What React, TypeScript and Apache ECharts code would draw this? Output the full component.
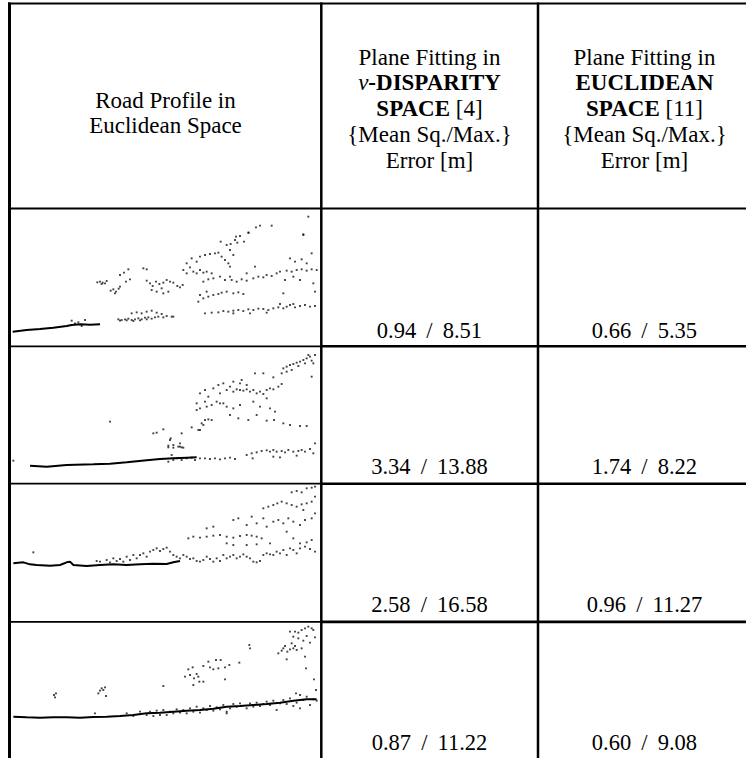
import React, { useEffect, useRef } from "react";
import * as echarts from "echarts";

type P = [number, number];

// ---------- table texts ----------
const HEADER_PROFILE = ["Road Profile in", "Euclidean Space"];
const HEADER_VDISP = ["Plane Fitting in", "{i|v}{b|-DISPARITY}", "{b|SPACE} [4]", "{Mean Sq./Max.}", "Error [m]"];
const HEADER_EUCL = ["Plane Fitting in", "{b|EUCLIDEAN}", "{b|SPACE} [11]", "{Mean Sq./Max.}", "Error [m]"];

// ---------- error values [m] ----------
const VDISP_MEAN_SQ = [0.94, 3.34, 2.58, 0.87];
const VDISP_MAX = [8.51, 13.88, 16.58, 11.22];
const EUCL_MEAN_SQ = [0.66, 1.74, 0.96, 0.6];
const EUCL_MAX = [5.35, 8.22, 11.27, 9.08];

// ---------- road profiles (distance, depth units) ----------
const ROAD_1: P[] = [[38, 305], [80, 300], [120, 297], [160, 293], [200, 288], [215, 285], [240, 283], [270, 284], [300, 283]];
const CLOUD_1: P[] = [
  [215, 272], [235, 277], [255, 270], [245, 288], [225, 280],
  [292, 157], [300, 155], [308, 158], [315, 160], [320, 153], [305, 162],
  [332, 182], [340, 178], [348, 185], [356, 176], [345, 190], [360, 170],
  [360, 135], [372, 128], [385, 118], [378, 155], [390, 148], [430, 115], [440, 118],
  [440, 152], [450, 160], [458, 168], [468, 155], [478, 162], [490, 158], [500, 150], [510, 155], [520, 158],
  [485, 175], [470, 185], [455, 180], [490, 190], [505, 185], [532, 168], [540, 172], [548, 165],
  [550, 120], [560, 130], [570, 112], [580, 125], [590, 130], [600, 120], [610, 128], [620, 125], [635, 130],
  [560, 100], [575, 85], [590, 95], [600, 80], [615, 75], [630, 72], [645, 70], [655, 68], [665, 80], [675, 90],
  [685, 100], [690, 110], [700, 75], [690, 60], [680, 45], [705, 30], [720, 18], [745, 8],
  [610, 155], [625, 148], [640, 145], [660, 140], [675, 150], [690, 140],
  [695, 150], [710, 155], [725, 148], [740, 152], [760, 145], [775, 140], [790, 142], [800, 135], [815, 138],
  [830, 130], [840, 125], [860, 122], [875, 125], [890, 120], [905, 118], [920, 122], [935, 118], [950, 120],
  [765, 110], [740, 130],
  [595, 215], [610, 205], [625, 200], [640, 195], [655, 192], [665, 188], [680, 185], [700, 190], [715, 187],
  [730, 192], [600, 195], [620, 185],
  [850, 190], [870, 85], [885, 95], [905, 88], [920, 100], [935, 70], [910, 15], [940, 160], [945, 185],
  [900, 150], [880, 140], [855, 150],
  [615, 250], [635, 248], [655, 247], [670, 243], [685, 245], [700, 242], [715, 240], [730, 243], [745, 238],
  [760, 240], [775, 236], [790, 237], [805, 240], [820, 235], [835, 232], [850, 235], [860, 230], [870, 225],
  [885, 232], [900, 228], [915, 225], [930, 230], [945, 228], [700, 250], [750, 250], [800, 248], [840, 222], [880, 222],
  [355, 268], [365, 270], [375, 268], [385, 266], [395, 270], [405, 268], [415, 265], [425, 268], [435, 263],
  [445, 262], [455, 266], [465, 262], [475, 260], [490, 262], [500, 258], [515, 260], [395, 250], [410, 247],
  [425, 250], [440, 245], [455, 242], [470, 248], [485, 252], [520, 260],
  [360, 272], [380, 271], [400, 273], [420, 271], [440, 268],
  [662, 35], [692, 42], [708, 20], [712, 38], [732, 35], [746, 8], [768, -8], [780, -13], [815, -13], [910, 13], [925, -40],
];

const ROAD_2: P[] = [[90, 377], [140, 380], [200, 375], [280, 373], [330, 371], [380, 367], [440, 361], [480, 357], [520, 355], [560, 353], [590, 352]];
const CLOUD_2: P[] = [
  [850, 85], [860, 80], [870, 75], [880, 72], [890, 68], [900, 65], [910, 60], [920, 55], [930, 50], [945, 45],
  [935, 62], [915, 70], [895, 78], [875, 90], [860, 95], [845, 100], [925, 45], [940, 70], [935, 110],
  [765, 100], [790, 100], [820, 112],
  [600, 160], [615, 150], [625, 170], [640, 145], [655, 135], [670, 130], [680, 150], [690, 140], [700, 155],
  [710, 148], [720, 150], [730, 152], [740, 148], [750, 155], [760, 150], [770, 160], [780, 155], [790, 162],
  [800, 150], [810, 145], [820, 148], [835, 140], [845, 132], [700, 125], [720, 130], [740, 135], [660, 160],
  [650, 185], [635, 195], [620, 200], [600, 205], [590, 190], [670, 190], [680, 200], [700, 205], [720, 195],
  [590, 210], [615, 185], [660, 190], [760, 185], [800, 175], [780, 200], [810, 205], [725, 120],
  [605, 250], [615, 240], [625, 238], [635, 240], [610, 255],
  [330, 245], [460, 280], [470, 278], [490, 268], [545, 280], [575, 262], [600, 270], [690, 225], [715, 235],
  [745, 240], [770, 225], [800, 242], [825, 215], [822, 240], [850, 250], [870, 255], [900, 258], [920, 258],
  [510, 300], [520, 315], [535, 320], [545, 322], [505, 322], [540, 310],
  [40, 362], [512, 295], [505, 317], [520, 323], [540, 320], [550, 323], [515, 345], [505, 365], [520, 360],
  [530, 355], [545, 360], [560, 355], [575, 353], [585, 360], [600, 355], [615, 355], [630, 357], [645, 355],
  [660, 358], [675, 355], [690, 353], [705, 357], [595, 270],
  [740, 345], [755, 340], [758, 355], [770, 337], [785, 333], [800, 331], [810, 335], [820, 330], [830, 335],
  [845, 333], [855, 337], [865, 330], [880, 335], [895, 333], [905, 330], [915, 335], [930, 327], [945, 310],
  [940, 340], [820, 350], [840, 352], [890, 347],
];

const ROAD_3: P[] = [[40, 325], [70, 322], [90, 328], [110, 330], [150, 332], [180, 330], [200, 322], [210, 320], [220, 330], [260, 333], [300, 330], [340, 328], [380, 330], [420, 328], [460, 326], [500, 327], [520, 322], [540, 318]];
const CLOUD_3: P[] = [
  [100, 292],
  [290, 318], [300, 320], [320, 315], [330, 322], [340, 310], [350, 318], [360, 312], [370, 320], [380, 305],
  [390, 315], [400, 300], [410, 310], [420, 300], [430, 295], [440, 305], [450, 290], [460, 285], [470, 280],
  [480, 288], [490, 282], [500, 278], [510, 290],
  [520, 300], [530, 305], [540, 310], [550, 300], [560, 305], [570, 312], [580, 310], [590, 318], [600, 320],
  [610, 315], [620, 305], [630, 312], [640, 320], [650, 310], [660, 318], [670, 300], [680, 310], [690, 305],
  [700, 300], [710, 310], [720, 305], [730, 298], [740, 305], [750, 310], [760, 320], [770, 322], [780, 318],
  [790, 300], [800, 295], [810, 298], [820, 300], [830, 290], [840, 295], [850, 285], [860, 300], [870, 280],
  [880, 285], [890, 295], [900, 280], [915, 275], [930, 282], [945, 290],
  [565, 250], [580, 245], [600, 248], [620, 245], [640, 242], [660, 240], [680, 245], [700, 248], [720, 243],
  [740, 240], [755, 242], [770, 245], [785, 250], [620, 220], [640, 215],
  [700, 195], [715, 190], [740, 210], [755, 185], [770, 205], [790, 190], [800, 215], [820, 200], [835, 195],
  [850, 205], [865, 190], [880, 200], [900, 210], [915, 195], [935, 190], [945, 175], [860, 230], [880, 250],
  [900, 265], [920, 262], [935, 255], [680, 265], [700, 270], [740, 270], [770, 268], [810, 265],
  [790, 160], [805, 155], [820, 150], [832, 145], [845, 140], [860, 145], [875, 150], [890, 155], [905, 148],
  [920, 145], [935, 140], [945, 125], [875, 112], [890, 108], [905, 112], [920, 100], [935, 98], [945, 95], [910, 165],
];

const ROAD_4: P[] = [[40, 410], [80, 412], [120, 413], [160, 412], [200, 412], [240, 413], [280, 411], [320, 410], [360, 408], [400, 405], [440, 400], [480, 398], [520, 395], [560, 392], [600, 390], [640, 386], [680, 380], [720, 378], [760, 375], [800, 372], [840, 368], [880, 362], [920, 358], [950, 358]];
const CLOUD_4: P[] = [
  [380, 400], [400, 408], [420, 395], [440, 405], [450, 395], [460, 408], [470, 392], [480, 405], [490, 390],
  [500, 405], [510, 395], [520, 400], [530, 388], [540, 398], [550, 390], [560, 400], [570, 385], [580, 395],
  [590, 380], [600, 398], [610, 385], [620, 390], [630, 378], [640, 392], [650, 382], [660, 388], [670, 375],
  [680, 395], [690, 385], [700, 372], [710, 380], [720, 370], [740, 385], [750, 370], [760, 380], [770, 368],
  [780, 378], [790, 372], [800, 365], [810, 375], [820, 362], [830, 390], [840, 370], [850, 360], [860, 372],
  [870, 355], [880, 378], [890, 368], [900, 385], [910, 360], [920, 350], [930, 375], [940, 358], [950, 362],
  [285, 400], [680, 400],
  [162, 345], [165, 352], [168, 340], [295, 340], [300, 332], [305, 325], [310, 330], [315, 322], [318, 348],
  [490, 318], [555, 290], [565, 268], [578, 262], [570, 285], [582, 295], [590, 282], [595, 290], [598, 305],
  [580, 315], [610, 305], [610, 258], [625, 245], [630, 262], [640, 268], [648, 240], [655, 265], [662, 240],
  [675, 262], [675, 298], [688, 255], [718, 248], [748, 195], [750, 205], [835, 220], [845, 212], [850, 205],
  [855, 198], [862, 215], [860, 238], [870, 208], [875, 190], [880, 205], [885, 198], [890, 210], [895, 175],
  [905, 205], [910, 182], [915, 230], [918, 265], [870, 155], [880, 170], [885, 155], [895, 158], [905, 150],
  [915, 145], [925, 140], [935, 145], [940, 150], [920, 168], [930, 188], [945, 172], [942, 298], [948, 330],
  [888, 340], [900, 345],
];

// ---------- layout (page pixels) ----------
const PANELS = [
  { road: ROAD_1, cloud: CLOUD_1, top: 209.3, bottom: 345, yMin: -62.1, yMax: 345 },
  { road: ROAD_2, cloud: CLOUD_2, top: 347.7, bottom: 482.7, yMin: 23.1, yMax: 428.1 },
  { road: ROAD_3, cloud: CLOUD_3, top: 484.8, bottom: 620.7, yMin: 89.4, yMax: 497.1 },
  { road: ROAD_4, cloud: CLOUD_4, top: 623, bottom: 758, yMin: 129, yMax: 534 },
];
const NUM_Y = [330, 466.4, 604.5, 742.5];
const HEAD_Y5 = [57, 82.8, 108.5, 134.2, 160];
const HEAD_Y2 = [100, 125.5];
const COL1_X = 165.5;
const COL2_X = 429.5;
const COL3_X = 644.5;
const FONT = "'Liberation Serif', 'Times New Roman', serif";
const HFS = 23;
const NFS = 22.5;

function fmt(a: number, b: number) {
  return a.toFixed(2) + "\u00A0\u2009/\u2009\u00A0" + b.toFixed(2);
}

export default function App() {
  const ref = useRef<HTMLDivElement>(null);
  useEffect(() => {
    if (!ref.current) return;
    const chart = echarts.init(ref.current, undefined, { renderer: "svg" });

    const rich = {
      b: { fontWeight: "bold", fontSize: HFS, fontFamily: FONT, fill: "#000" },
      i: { fontStyle: "italic", fontSize: HFS, fontFamily: FONT, fill: "#000" },
    };
    const text = (t: string, x: number, y: number, size: number): any => ({
      type: "text",
      z: 100,
      silent: true,
      style: {
        text: t, x, y, align: "center", verticalAlign: "middle",
        fontSize: size, fontFamily: FONT, fill: "#000", rich,
      },
    });
    const line = (x1: number, y1: number, x2: number, y2: number, w: number): any => ({
      type: "line", z: 100, silent: true,
      shape: { x1, y1, x2, y2 },
      style: { stroke: "#000", lineWidth: w },
    });

    const graphics: any[] = [];
    graphics.push(line(8, 3.5, 746, 3.5, 2));
    graphics.push(line(9.5, 2.5, 9.5, 758, 3));
    graphics.push(line(321.3, 2.5, 321.3, 758, 2.5));
    graphics.push(line(538, 2.5, 538, 758, 2.5));
    graphics.push(line(8, 208.5, 746, 208.5, 2));
    [346.3, 483.7, 621.9].forEach((y) => {
      graphics.push(line(8, y, 321.3, y, 1.8));
      graphics.push(line(321.3, y, 746, y, 2.6));
    });
    HEADER_PROFILE.forEach((t, k) => graphics.push(text(t, COL1_X, HEAD_Y2[k], HFS)));
    HEADER_VDISP.forEach((t, k) => graphics.push(text(t, COL2_X, HEAD_Y5[k], HFS)));
    HEADER_EUCL.forEach((t, k) => graphics.push(text(t, COL3_X, HEAD_Y5[k], HFS)));
    VDISP_MEAN_SQ.forEach((v, k) => graphics.push(text(fmt(v, VDISP_MAX[k]), COL2_X, NUM_Y[k], NFS)));
    EUCL_MEAN_SQ.forEach((v, k) => graphics.push(text(fmt(v, EUCL_MAX[k]), COL3_X, NUM_Y[k], NFS)));

    const series: any[] = [];
    PANELS.forEach((p, i) => {
      series.push({
        type: "scatter", xAxisIndex: i, yAxisIndex: i, data: p.cloud,
        symbol: "rect", symbolSize: 1.9, itemStyle: { color: "#111" }, clip: true, silent: true,
      });
      series.push({
        type: "line", xAxisIndex: i, yAxisIndex: i, data: p.road,
        showSymbol: false, symbol: "none", lineStyle: { width: 2, color: "#000" }, clip: true, silent: true,
      });
    });

    chart.setOption({
      animation: false,
      backgroundColor: "#fff",
      grid: PANELS.map((p) => ({ left: 11, top: p.top, width: 308.5, height: p.bottom - p.top })),
      xAxis: PANELS.map((_, i) => ({ type: "value", gridIndex: i, min: 33, max: 958.5, show: false })),
      yAxis: PANELS.map((p, i) => ({ type: "value", gridIndex: i, min: p.yMin, max: p.yMax, inverse: true, show: false })),
      series,
      graphic: graphics,
    });
    return () => chart.dispose();
  }, []);
  return (
    <div
      ref={ref}
      style={{ position: "absolute", left: 0, top: 0, width: 746, height: 758, background: "#fff" }}
    />
  );
}
